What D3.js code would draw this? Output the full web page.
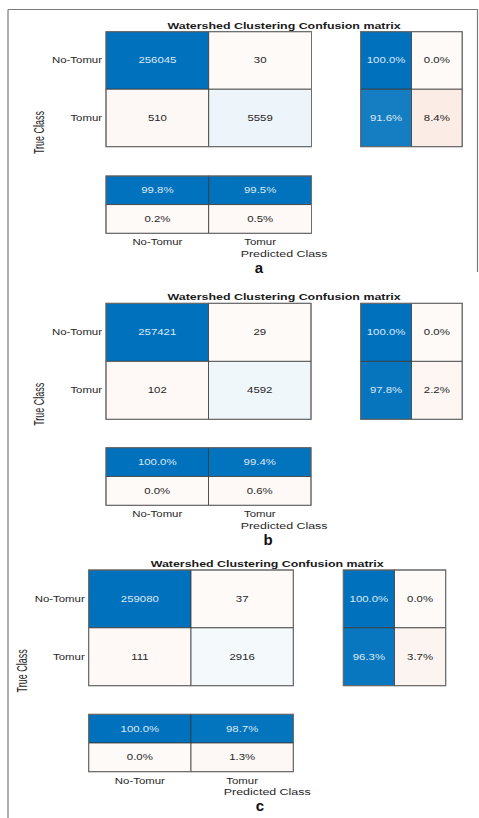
<!DOCTYPE html>
<html>
<head>
<meta charset="utf-8">
<script src="https://cdn.jsdelivr.net/npm/d3@7"></script>
<style>
  html, body { margin: 0; padding: 0; background: #ffffff; }
  svg { display: block; }
  text { font-family: "Liberation Sans", Arial, Helvetica, sans-serif; }
</style>
</head>
<body>
<svg id="fig" width="479" height="818"></svg>
<script>
// Class names shared by every confusion matrix
const classes = ["No-Tomur", "Tomur"];
const panelTags = ["a", "b", "c"];
const chartTitle = "Watershed Clustering Confusion matrix";
const xAxisLabel = "Predicted Class";
const yAxisLabel = "True Class";

// Pixel counts: rows = true class, columns = predicted class
const countsA = [[256045, 30], [510, 5559]];
const countsB = [[257421, 29], [102, 4592]];
const countsC = [[259080, 37], [111, 2916]];

// Row summary (per true class): [correct %, incorrect %]
const rowPctA = [[100.0, 0.0], [91.6, 8.4]];
const rowPctB = [[100.0, 0.0], [97.8, 2.2]];
const rowPctC = [[100.0, 0.0], [96.3, 3.7]];

// Column summary (per predicted class): first row correct %, second row incorrect %
const colPctA = [[99.8, 99.5], [0.2, 0.5]];
const colPctB = [[100.0, 99.4], [0.0, 0.6]];
const colPctC = [[100.0, 98.7], [0.0, 1.3]];

const panels = [
  { tag: panelTags[0], counts: countsA, rowPct: rowPctA, colPct: colPctA },
  { tag: panelTags[1], counts: countsB, rowPct: rowPctB, colPct: colPctB },
  { tag: panelTags[2], counts: countsC, rowPct: rowPctC, colPct: colPctC }
];

// Placement of each figure on the page
const layout = [
  { left: 106,  top: 31.7,  w: 205.5, h: 115,   rsLeft: 360.7, rsW: 101.5, csTop: 176,   csH: 57.3, tagX: 259 },
  { left: 106,  top: 303.3, w: 205,   h: 116,   rsLeft: 360.7, rsW: 101.5, csTop: 447.7, csH: 57.6, tagX: 268 },
  { left: 88.7, top: 570,   w: 204.6, h: 115.7, rsLeft: 343.3, rsW: 102.4, csTop: 714.3, csH: 57.4, tagX: 260 }
];

const blue = "#0072bd";
const orange = "#d95319";
const SX = 1.35;           // horizontal stretch of the exported figure text
const tickFont = 8.45;
const labelFont = 9.2;

const svg = d3.select("#fig");

// outer frame of the figure
const frame = svg.append("g").attr("fill", "none").attr("stroke", "#7a7a7a").attr("stroke-width", 1.2);
frame.append("line").attr("x1", 8).attr("y1", 9.5).attr("x2", 478).attr("y2", 9.5);
frame.append("line").attr("x1", 8).attr("y1", 9.5).attr("x2", 8).attr("y2", 818);
frame.append("line").attr("x1", 477.5).attr("y1", 9.5).attr("x2", 477.5).attr("y2", 272);

// diagonal (correct) cells shade from white to blue, off-diagonal from a faint tint to orange
const blueMix = t => d3.interpolateRgb("#ffffff", blue)(t);
const orangeMix = t => d3.interpolateRgb("#ffffff", orange)(0.03 + 0.97 * t);

function stretchedText(g, x, y, str, opts) {
  const t = g.append("text")
    .attr("transform", `translate(${x},${y}) scale(${SX},1)`)
    .attr("text-anchor", opts.anchor || "middle")
    .attr("dominant-baseline", "central")
    .attr("font-size", opts.size)
    .attr("fill", opts.fill || "#262626")
    .text(str);
  if (opts.bold) t.attr("font-weight", "bold");
  return t;
}

panels.forEach((p, i) => {
  const L = layout[i];
  const g = svg.append("g");

  const x = d3.scaleBand().domain(classes).range([L.left, L.left + L.w]);
  const y = d3.scaleBand().domain(classes).range([L.top, L.top + L.h]);
  const xr = d3.scaleBand().domain([0, 1]).range([L.rsLeft, L.rsLeft + L.rsW]);
  const yc = d3.scaleBand().domain([0, 1]).range([L.csTop, L.csTop + L.csH]);

  const maxCount = d3.max(p.counts.flat());
  const shade = d3.scalePow().exponent(0.7).domain([0, maxCount]).range([0, 1]);
  const pctShade = d3.scaleLinear().domain([0, 100]).range([0, 1]);
  const inkOn = t => (t > 0.5 ? "#dce8f4" : "#262626");

  // main matrix cells
  const cells = [];
  p.counts.forEach((row, r) => row.forEach((v, c) => cells.push({ r, c, v })));
  const cg = g.selectAll(".cell").data(cells).enter().append("g");
  cg.append("rect")
    .attr("x", d => x(classes[d.c]))
    .attr("y", d => y(classes[d.r]))
    .attr("width", x.bandwidth())
    .attr("height", y.bandwidth())
    .attr("fill", d => (d.r === d.c ? blueMix : orangeMix)(shade(d.v)))
    .attr("stroke", "#3a3a3a").attr("stroke-width", 0.8);
  cg.each(function (d) {
    stretchedText(d3.select(this), x(classes[d.c]) + x.bandwidth() / 2, y(classes[d.r]) + y.bandwidth() / 2,
      d.v, { size: tickFont, fill: inkOn(shade(d.v)) });
  });
  g.append("rect").attr("x", L.left).attr("y", L.top).attr("width", L.w).attr("height", L.h)
    .attr("fill", "none").attr("stroke", "#6e6e6e").attr("stroke-width", 1);

  // row summary
  const rs = [];
  p.rowPct.forEach((row, r) => row.forEach((v, c) => rs.push({ r, c, v })));
  const rg = g.selectAll(".rs").data(rs).enter().append("g");
  rg.append("rect")
    .attr("x", d => xr(d.c)).attr("y", d => y(classes[d.r]))
    .attr("width", xr.bandwidth()).attr("height", y.bandwidth())
    .attr("fill", d => (d.c === 0 ? blueMix : orangeMix)(pctShade(d.v)))
    .attr("stroke", "#3a3a3a").attr("stroke-width", 0.8);
  rg.each(function (d) {
    stretchedText(d3.select(this), xr(d.c) + xr.bandwidth() / 2, y(classes[d.r]) + y.bandwidth() / 2,
      d.v.toFixed(1) + "%", { size: tickFont, fill: inkOn(pctShade(d.v)) });
  });
  g.append("rect").attr("x", L.rsLeft).attr("y", L.top).attr("width", L.rsW).attr("height", L.h)
    .attr("fill", "none").attr("stroke", "#6e6e6e").attr("stroke-width", 1);

  // column summary
  const cs = [];
  p.colPct.forEach((row, r) => row.forEach((v, c) => cs.push({ r, c, v })));
  const sg = g.selectAll(".cs").data(cs).enter().append("g");
  sg.append("rect")
    .attr("x", d => x(classes[d.c])).attr("y", d => yc(d.r))
    .attr("width", x.bandwidth()).attr("height", yc.bandwidth())
    .attr("fill", d => (d.r === 0 ? blueMix : orangeMix)(pctShade(d.v)))
    .attr("stroke", "#3a3a3a").attr("stroke-width", 0.8);
  sg.each(function (d) {
    stretchedText(d3.select(this), x(classes[d.c]) + x.bandwidth() / 2, yc(d.r) + yc.bandwidth() / 2,
      d.v.toFixed(1) + "%", { size: tickFont, fill: inkOn(pctShade(d.v)) });
  });
  g.append("rect").attr("x", L.left).attr("y", L.csTop).attr("width", L.w).attr("height", L.csH)
    .attr("fill", "none").attr("stroke", "#6e6e6e").attr("stroke-width", 1);

  // tick labels
  classes.forEach(cn => {
    stretchedText(g, L.left - 4, y(cn) + y.bandwidth() / 2, cn, { size: tickFont, anchor: "end" });
    stretchedText(g, x(cn) + x.bandwidth() / 2, L.csTop + L.csH + 9, cn, { size: tickFont });
  });

  // axis labels and title
  const right = L.rsLeft + L.rsW;
  const midX = (L.left + right) / 2;
  stretchedText(g, midX, L.csTop + L.csH + 20, xAxisLabel, { size: labelFont });
  stretchedText(g, midX, L.top - 6.5, chartTitle, { size: labelFont, bold: true, fill: "#1a1a1a" });
  g.append("text")
    .attr("transform", `translate(${L.left - 67},${(L.top + L.csTop + L.csH) / 2}) scale(1.55,1) rotate(-90)`)
    .attr("text-anchor", "middle").attr("dominant-baseline", "central")
    .attr("font-size", 9).attr("fill", "#262626")
    .text(yAxisLabel);

  // figure tag
  g.append("text")
    .attr("x", L.tagX).attr("y", L.csTop + L.csH + 34)
    .attr("text-anchor", "middle").attr("dominant-baseline", "central")
    .attr("font-family", "'Liberation Serif', 'Times New Roman', serif")
    .attr("font-weight", "bold")
    .attr("font-size", 15).attr("fill", "#111")
    .text(p.tag);
});
</script>
</body>
</html>
